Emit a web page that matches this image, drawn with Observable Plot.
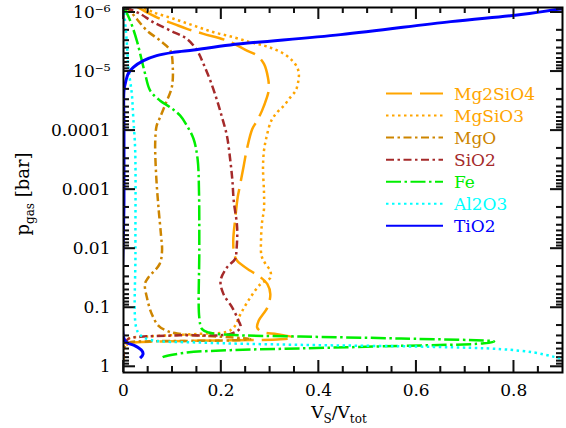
<!DOCTYPE html>
<html><head><meta charset="utf-8">
<script src="https://cdn.jsdelivr.net/npm/d3@7"></script>
<script src="https://cdn.jsdelivr.net/npm/@observablehq/plot@0.6"></script>
<style>body{margin:0;background:#fff} svg{display:block}</style>
</head><body><div id="chart"></div>
<script>
// ---- data: volume fraction V_S/V_tot vs gas pressure [bar] ----
const mg2sio4X = [0.027,0.048,0.075,0.103,0.130,0.164,0.212,0.253,0.274,0.288,0.296,0.298,0.293,0.284,0.274,0.264,0.253,0.2465,0.238,0.234,0.229,0.225,0.227,0.233,0.260,0.277,0.295,0.301,0.295,0.277,0.274,0.284,0.315,0.349,0.322,0.219,0.055,0.0095,0.001,0.0002];
const mg2sio4P = [8.0e-7,1.0e-6,1.29e-6,1.57e-6,1.91e-6,2.32e-6,3.02e-6,4.46e-6,5.42e-6,7.50e-6,1.26e-5,1.99e-5,2.94e-5,4.63e-5,6.85e-5,9.46e-5,2.07e-4,3.96e-4,9.25e-4,1.37e-3,3.18e-3,7.40e-3,0.0124,0.0162,0.0239,0.0290,0.0401,0.0593,0.100,0.168,0.218,0.258,0.282,0.322,0.346,0.360,0.381,0.412,0.542,0.80];

const mgsio3X = [0.031,0.0615,0.103,0.144,0.185,0.226,0.260,0.288,0.308,0.329,0.346,0.356,0.3595,0.358,0.353,0.342,0.329,0.315,0.303,0.293,0.288,0.286,0.288,0.288,0.284,0.282,0.283,0.291,0.301,0.301,0.281,0.260,0.240,0.226,0.212,0.157,0.055,0.0095,0.001,0.0002];
const mgsio3P = [7.7e-7,1.0e-6,1.29e-6,1.68e-6,2.18e-6,2.65e-6,3.22e-6,3.66e-6,4.17e-6,5.07e-6,6.59e-6,8.55e-6,1.11e-5,1.53e-5,2.12e-5,2.76e-5,3.81e-5,4.95e-5,6.85e-5,1.32e-4,2.21e-4,4.24e-4,1.12e-3,2.15e-3,3.62e-3,6.93e-3,0.0133,0.0182,0.0239,0.0314,0.0401,0.0677,0.129,0.218,0.258,0.279,0.308,0.340,0.464,0.685];

const mgoX = [0.003,0.010,0.027,0.048,0.075,0.096,0.101,0.099,0.086,0.075,0.068,0.065,0.067,0.072,0.077,0.079,0.074,0.051,0.044,0.048,0.058,0.072,0.089,0.110,0.219,0.260,0.219,0.055,0.0095,0.001,0.0002];
const mgoP = [7.7e-7,8.75e-7,1.29e-6,2.04e-6,3.02e-6,4.46e-6,8.55e-6,1.87e-5,3.57e-5,6.03e-5,8.32e-5,1.60e-4,5.86e-4,2.15e-3,6.10e-3,0.0109,0.0184,0.031,0.040,0.0677,0.129,0.204,0.248,0.276,0.320,0.340,0.360,0.374,0.397,0.501,0.740];

const sio2X = [0.005,0.034,0.0615,0.096,0.130,0.151,0.164,0.178,0.192,0.202,0.212,0.219,0.223,0.226,0.233,0.2315,0.229,0.212,0.199,0.205,0.223,0.236,0.240,0.219,0.116,0.034,0.0095,0.001,0.0002];
const sio2P = [8.3e-7,1.06e-6,1.48e-6,2.04e-6,2.82e-6,4.46e-6,7.50e-6,1.44e-5,3.14e-5,6.03e-5,1.23e-4,3.27e-4,6.67e-4,1.56e-3,4.41e-3,0.0109,0.0150,0.0210,0.0353,0.0593,0.100,0.168,0.218,0.279,0.296,0.314,0.340,0.446,0.659];

const feX = [0.001,0.0136,0.0273,0.0376,0.0444,0.0547,0.0752,0.0958,0.1163,0.1301,0.1437,0.1519,0.1548,0.1554,0.1554,0.161,0.1745,0.219,0.363,0.569,0.760,0.739,0.569,0.363,0.219,0.1301,0.0814,0.0767];
const feP = [8.3e-7,1.38e-6,3.02e-6,6.59e-6,1.11e-5,2.12e-5,3.14e-5,4.07e-5,5.64e-5,8.32e-5,1.40e-4,3.05e-4,1.12e-3,0.0109,0.148,0.232,0.265,0.290,0.310,0.335,0.377,0.404,0.446,0.492,0.527,0.579,0.685,0.721];

const al2o3X = [0.0,0.003,0.007,0.010,0.017,0.020,0.024,0.0245,0.026,0.034,0.055,0.157,0.363,0.636,0.774,0.842,0.883,0.908];
const al2o3P = [8.0e-7,1.38e-6,3.40e-6,8.55e-6,2.39e-5,6.03e-5,2.24e-4,0.0109,0.218,0.290,0.353,0.392,0.429,0.464,0.507,0.579,0.685,0.77];

const tio2X = [0.905,0.815,0.671,0.445,0.219,0.144,0.103,0.068,0.041,0.020,0.010,0.005,0.001,0.001,0.001,0.0005,0.007,0.024,0.038,0.040,0.034];
const tio2P = [8.55e-7,1.09e-6,1.44e-6,2.39e-6,3.57e-6,4.34e-6,4.76e-6,5.42e-6,6.59e-6,8.55e-6,1.08e-5,1.44e-5,2.12e-5,8.3e-5,1.56e-3,0.327,0.392,0.446,0.542,0.616,0.721];

const species = ["Mg2SiO4","MgSiO3","MgO","SiO2","Fe","Al2O3","TiO2"];
const xTicks = [0, 0.2, 0.4, 0.6, 0.8];
const xTickLabels = ["0", "0.2", "0.4", "0.6", "0.8"];
const yTicks = [1e-6, 1e-5, 1e-4, 1e-3, 0.01, 0.1, 1];
const yTickLabels = ["10⁻⁶", "10⁻⁵", "0.0001", "0.001", "0.01", "0.1", "1"];

// ---- styles ----
const styles = {
  Mg2SiO4: {color: "#ffa500", dash: "26,8", width: 2.5},
  MgSiO3:  {color: "#ffa500", dash: "2.5,3.5", width: 2.5},
  MgO:     {color: "#cd8500", dash: "8,3.5,2.5,3.5", width: 2.5},
  SiO2:    {color: "#a52a2a", dash: "8,3.5,2.5,3.5", width: 2.5},
  Fe:      {color: "#00ee00", dash: "15,3.5,2.5,3.5", width: 2.5},
  Al2O3:   {color: "#00ffff", dash: "2.5,3.5", width: 2.5},
  TiO2:    {color: "#0000ff", dash: null, width: 3}
};
const series = {
  Mg2SiO4: [mg2sio4X, mg2sio4P], MgSiO3: [mgsio3X, mgsio3P], MgO: [mgoX, mgoP],
  SiO2: [sio2X, sio2P], Fe: [feX, feP], Al2O3: [al2o3X, al2o3P], TiO2: [tio2X, tio2P]
};

const xMinor = d3.range(1, 18).filter(i => i % 4 !== 0).map(i => i * 0.05);
const yMinor = [];
for (let k = -7; k <= 0; k++) for (let m = 2; m <= 9; m++) {
  const v = m * Math.pow(10, k);
  if (v > 8.3e-7 && v < 1.26) yMinor.push(v);
}

const W = 566, H = 428, mL = 123, mR = 4, mT = 7, mB = 56;
const plotW = W - mL - mR, plotH = H - mT - mB;
const majorLen = 12, minorLen = 6;

const font = "DejaVu Serif";
const lineMarks = species.map(name => {
  const [xs, ps] = series[name];
  const s = styles[name];
  const data = xs.map((x, i) => ({x, p: ps[i]}));
  const o = {x: "x", y: "p", stroke: s.color, strokeWidth: s.width, curve: "catmull-rom",
    clip: true, strokeLinecap: "butt"};
  if (s.dash) o.strokeDasharray = s.dash;
  return Plot.line(data, o);
});

const tickMarks = [
  Plot.ruleX(xTicks.slice(), {stroke: "#111", strokeWidth: 1.5, insetTop: plotH - majorLen}),
  Plot.ruleX(xMinor.slice(), {stroke: "#111", strokeWidth: 1.5, insetTop: plotH - minorLen}),
  Plot.ruleX(xTicks.slice(), {stroke: "#111", strokeWidth: 1.5, insetBottom: plotH - majorLen}),
  Plot.ruleX(xMinor.slice(), {stroke: "#111", strokeWidth: 1.5, insetBottom: plotH - minorLen}),
  Plot.ruleY(yTicks.slice(), {stroke: "#111", strokeWidth: 1.5, insetRight: plotW - majorLen}),
  Plot.ruleY(yMinor.slice(), {stroke: "#111", strokeWidth: 1.5, insetRight: plotW - minorLen}),
  Plot.ruleY(yTicks.slice(), {stroke: "#111", strokeWidth: 1.5, insetLeft: plotW - majorLen}),
  Plot.ruleY(yMinor.slice(), {stroke: "#111", strokeWidth: 1.5, insetLeft: plotW - minorLen})
];

const plot = Plot.plot({
  width: W, height: H,
  marginLeft: mL, marginRight: mR, marginTop: mT, marginBottom: mB,
  style: {fontFamily: font, fontSize: "17px", background: "white"},
  x: {domain: [0, 0.9]},
  y: {type: "log", domain: [1.26, 8.3e-7]},
  marks: [
    ...tickMarks,
    ...lineMarks,
    Plot.axisX(xTicks, {anchor: "bottom", tickSize: 0, tickPadding: 11, label: null,
      fontSize: 17, tickFormat: d => xTickLabels[xTicks.indexOf(d)]}),
    Plot.axisY(yTicks, {anchor: "left", tickSize: 0, tickPadding: 13, label: null,
      fontSize: 17, tickFormat: d => yTickLabels[yTicks.indexOf(d)]}),
    Plot.frame({stroke: "#000", strokeWidth: 2})
  ]
});
document.getElementById("chart").appendChild(plot);

const svg = d3.select(plot);
// tick marks again, placed with the plot's own scales (inward, all four sides)
const sx = plot.scale("x"), sy = plot.scale("y");
const frameL = mL, frameR = W - mR, frameT = mT, frameB = H - mB;
function addTick(a, b, c, d) {
  svg.append("line").attr("x1", a).attr("y1", b).attr("x2", c).attr("y2", d)
    .attr("stroke", "#111").attr("stroke-width", 1.5);
}
[[xTicks, majorLen], [xMinor, minorLen]].forEach(([vals, len]) => vals.forEach(v => {
  const px = sx.apply(v);
  addTick(px, frameB, px, frameB - len);
  addTick(px, frameT, px, frameT + len);
}));
[[yTicks, majorLen], [yMinor, minorLen]].forEach(([vals, len]) => vals.forEach(v => {
  const py = sy.apply(v);
  addTick(frameL, py, frameL + len, py);
  addTick(frameR, py, frameR - len, py);
}));

// x axis label
const xl = svg.append("text").attr("x", 339).attr("y", 418).attr("text-anchor", "middle")
  .attr("font-family", font).attr("font-size", 17).attr("fill", "black");
xl.append("tspan").text("V");
xl.append("tspan").attr("dy", 5).attr("font-size", 12).text("S");
xl.append("tspan").attr("dy", -5).text("/V");
xl.append("tspan").attr("dy", 5).attr("font-size", 12).text("tot");
// y axis label
const yl = svg.append("text").attr("transform", "translate(29,194) rotate(-90)")
  .attr("text-anchor", "middle").attr("font-family", font).attr("font-size", 18).attr("fill", "black");
yl.append("tspan").text("p");
yl.append("tspan").attr("dy", 5).attr("font-size", 12).text("gas");
yl.append("tspan").attr("dy", -5).text(" [bar]");

// legend
species.forEach((name, i) => {
  const s = styles[name];
  const y = 93.5 + 22.05 * i;
  const ln = svg.append("line").attr("x1", 386).attr("x2", 443).attr("y1", y).attr("y2", y)
    .attr("stroke", s.color).attr("stroke-width", 2);
  if (s.dash) ln.attr("stroke-dasharray", s.dash);
  svg.append("text").attr("x", 454).attr("y", y).attr("dy", "0.36em")
    .attr("text-anchor", "start")
    .attr("font-family", font).attr("font-size", 17).attr("fill", s.color).text(name);
});
</script></body></html>
